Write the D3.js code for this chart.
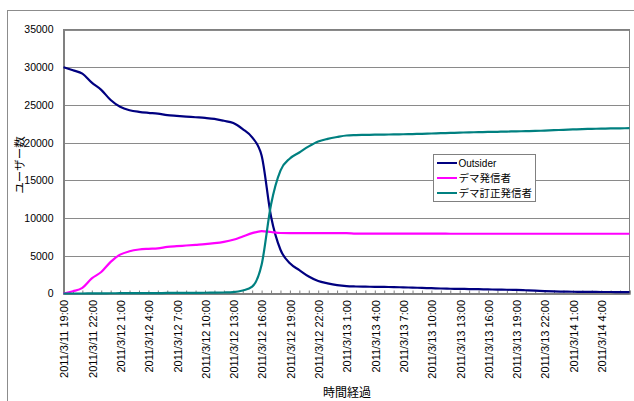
<!DOCTYPE html>
<html>
<head>
<meta charset="utf-8">
<script src="https://cdn.jsdelivr.net/npm/d3@7"></script>
<style>
  body { margin: 0; background: #fff; }
  svg { display: block; }
</style>
</head>
<body>
<svg id="chart" width="634" height="401"></svg>
<script>
// Hourly categories from 2011/3/11 19:00 to 2011/3/14 7:00 (61 points); a label every 3 hours.
const tickLabels = [
  "2011/3/11 19:00", "2011/3/11 22:00",
  "2011/3/12 1:00", "2011/3/12 4:00", "2011/3/12 7:00", "2011/3/12 10:00",
  "2011/3/12 13:00", "2011/3/12 16:00", "2011/3/12 19:00", "2011/3/12 22:00",
  "2011/3/13 1:00", "2011/3/13 4:00", "2011/3/13 7:00", "2011/3/13 10:00",
  "2011/3/13 13:00", "2011/3/13 16:00", "2011/3/13 19:00", "2011/3/13 22:00",
  "2011/3/14 1:00", "2011/3/14 4:00"
];
const labelStep = 3;
const hourCount = 61;

const outsider = [
  30000, 29600, 29150, 27950, 27000, 25650, 24750, 24300, 24080, 23950,
  23850, 23650, 23550, 23460, 23370, 23280, 23150, 22900, 22600, 21800,
  20700, 18300, 10200, 5800, 4000, 3100, 2250, 1650, 1350, 1120,
  980, 930, 900, 890, 870, 850, 820, 780, 740, 700,
  660, 630, 610, 590, 570, 540, 520, 500, 470, 430,
  380, 320, 280, 250, 230, 220, 210, 200, 200, 190,
  190
];
const demaSenders = [
  0, 300, 750, 2000, 2850, 4200, 5150, 5600, 5830, 5920,
  5980, 6180, 6280, 6360, 6450, 6540, 6670, 6850, 7120, 7550,
  8000, 8280, 8150, 8020, 8000, 8000, 8000, 8000, 8000, 8000,
  8000, 7950, 7950, 7950, 7950, 7950, 7950, 7950, 7950, 7950,
  7950, 7920, 7920, 7920, 7920, 7920, 7920, 7920, 7920, 7920,
  7920, 7920, 7920, 7920, 7920, 7920, 7920, 7920, 7920, 7920,
  7920
];
const correctionSenders = [
  0, 0, 0, 10, 20, 30, 40, 50, 50, 60,
  60, 70, 80, 80, 90, 100, 110, 130, 180, 400,
  900, 3800, 11800, 16300, 17900, 18700, 19500, 20150, 20500, 20750,
  20950, 21000, 21030, 21050, 21070, 21090, 21110, 21140, 21170, 21210,
  21250, 21290, 21330, 21360, 21390, 21420, 21440, 21470, 21500, 21520,
  21550, 21600, 21650, 21700, 21750, 21800, 21830, 21860, 21880, 21900,
  21920
];

const seriesNames = ["Outsider", "デマ発信者", "デマ訂正発信者"];
const seriesColors = ["#000080", "#ff00ff", "#008080"];
const yTicks = [0, 5000, 10000, 15000, 20000, 25000, 30000, 35000];

const series = [outsider, demaSenders, correctionSenders].map((values, i) => ({
  name: seriesNames[i], color: seriesColors[i], values
}));

const svg = d3.select("#chart");
const plot = { left: 63.5, right: 629.5, top: 29.5, bottom: 293.5 };
const numFont = "'Liberation Sans', Arial, sans-serif";
const jpFont = "'Noto Sans CJK JP', 'Noto Sans', sans-serif";

const x = d3.scaleLinear().domain([0, hourCount - 1]).range([plot.left, plot.right]);
const y = d3.scaleLinear().domain([0, 35000]).range([plot.bottom, plot.top]);

// Outer chart frame
svg.append("rect")
  .attr("x", 7.5).attr("y", 10.5).attr("width", 700).attr("height", 500)
  .attr("fill", "none").attr("stroke", "#8c8c8c").attr("stroke-width", 1);

// Horizontal gridlines
svg.append("g").selectAll("line").data(yTicks).join("line")
  .attr("x1", plot.left).attr("x2", plot.right)
  .attr("y1", d => Math.round(y(d)) + 0.5).attr("y2", d => Math.round(y(d)) + 0.5)
  .attr("stroke", "#8a8a8a").attr("stroke-width", 1);

// Plot area border
svg.append("rect")
  .attr("x", plot.left).attr("y", plot.top)
  .attr("width", plot.right - plot.left).attr("height", plot.bottom - plot.top)
  .attr("fill", "none").attr("stroke", "#808080").attr("stroke-width", 1);

// Y axis
const yAxis = svg.append("g")
  .attr("transform", `translate(${plot.left},0)`)
  .call(d3.axisLeft(y).tickValues(yTicks).tickSize(0).tickPadding(10).tickFormat(d3.format("d")));
yAxis.select(".domain").attr("stroke", "#808080").attr("stroke-width", 2);
yAxis.selectAll("text").attr("font-family", numFont).attr("font-size", "10.5px").attr("fill", "#000");

// X axis: a tick every hour, a label every third hour
const xAxis = svg.append("g")
  .attr("transform", `translate(0,${plot.bottom})`)
  .call(d3.axisBottom(x).tickValues(d3.range(0, hourCount)).tickSize(-3).tickFormat(""));
xAxis.select(".domain").attr("stroke", "#808080").attr("stroke-width", 1.5);
xAxis.selectAll(".tick line").attr("stroke", "#808080");

svg.append("g").selectAll("text").data(tickLabels).join("text")
  .attr("transform", (d, i) => `translate(${x(i * labelStep) + 1},300) rotate(-90)`)
  .attr("text-anchor", "end").attr("dy", "0.35em")
  .attr("font-family", numFont).attr("font-size", "11px").attr("fill", "#000")
  .text(d => d);

// Series lines
const line = d3.line()
  .x((d, i) => x(i)).y(d => y(d))
  .curve(d3.curveMonotoneX);

svg.append("g").selectAll("path").data(series).join("path")
  .attr("d", d => line(d.values))
  .attr("fill", "none").attr("stroke", d => d.color)
  .attr("stroke-width", 2.2).attr("stroke-linejoin", "round");

// Axis titles
svg.append("text")
  .attr("transform", "translate(20,165) rotate(-90)")
  .attr("text-anchor", "middle").attr("dy", "0.35em")
  .attr("font-family", jpFont).attr("font-size", "11.5px").attr("fill", "#000")
  .text("ユーザー数");
svg.append("text")
  .attr("x", 347).attr("y", 397).attr("text-anchor", "middle")
  .attr("font-family", jpFont).attr("font-size", "12px").attr("fill", "#000")
  .text("時間経過");

// Legend
const legend = svg.append("g").attr("transform", "translate(433.5,154.5)");
legend.append("rect").attr("width", 102).attr("height", 47)
  .attr("fill", "#fff").attr("stroke", "#808080").attr("stroke-width", 1);
const rows = legend.selectAll("g").data(series).join("g")
  .attr("transform", (d, i) => `translate(0,${8.5 + i * 15})`);
rows.append("line").attr("x1", 3.5).attr("x2", 23.5)
  .attr("stroke", d => d.color).attr("stroke-width", 2);
rows.append("text").attr("x", 25).attr("dy", "0.35em")
  .attr("font-family", (d, i) => i === 0 ? numFont : jpFont)
  .attr("font-size", (d, i) => i === 0 ? "10px" : "10.5px").attr("fill", "#000")
  .text(d => d.name);
</script>
</body>
</html>
